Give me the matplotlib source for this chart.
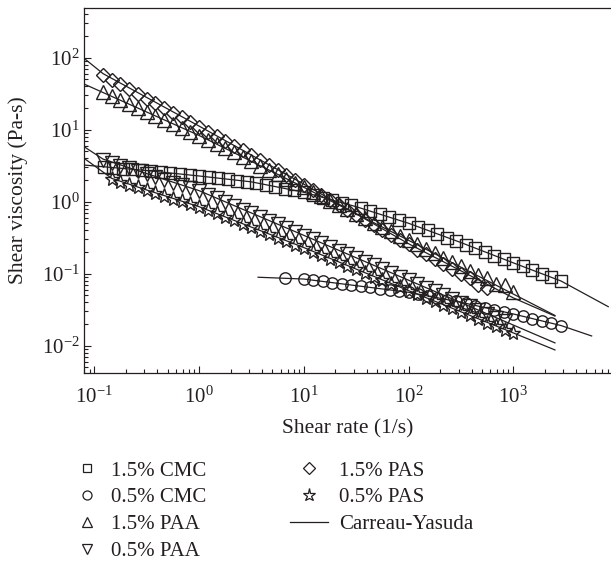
import matplotlib
matplotlib.use("Agg")
import matplotlib.pyplot as plt
from matplotlib.lines import Line2D
from matplotlib.ticker import LogLocator, NullFormatter

# shear-rate grids of the rheometer sweeps (points per decade: 12 for PAA/PAS, 11 for CMC)
rate_12 = [0.1212, 0.1468, 0.1778, 0.2154, 0.2610, 0.3162, 0.3831, 0.4642, 0.5623, 0.6813,
           0.8254, 1.0, 1.212, 1.468, 1.778, 2.154, 2.610, 3.162, 3.831, 4.642,
           5.623, 6.813, 8.254, 10.0, 12.12, 14.68, 17.78, 21.54, 26.10, 31.62,
           38.31, 46.42, 56.23, 68.13, 82.54, 100.0, 121.2, 146.8, 177.8, 215.4,
           261.0, 316.2, 383.1, 464.2, 562.3, 681.3, 825.4, 1000.0]
rate_11 = [0.1233, 0.1520, 0.1874, 0.2310, 0.2848, 0.3511, 0.4329, 0.5337, 0.6579, 0.8111,
           1.0, 1.233, 1.520, 1.874, 2.310, 2.848, 3.511, 4.329, 5.337, 6.579,
           8.111, 10.0, 12.33, 15.20, 18.74, 23.10, 28.48, 35.11, 43.29, 53.37,
           65.79, 81.11, 100.0, 123.3, 152.0, 187.4, 231.0, 284.8, 351.1, 432.9,
           533.7, 657.9, 811.1, 1000.0, 1233.0, 1520.0, 1874.0, 2310.0, 2848.0]

# measured viscosities (Pa-s)
eta_cmc15 = [3.05, 2.97, 2.88, 2.81, 2.73, 2.65, 2.57, 2.49, 2.41, 2.34,
             2.26, 2.19, 2.11, 2.04, 1.96, 1.90, 1.81, 1.71, 1.61, 1.52,
             1.43, 1.35, 1.24, 1.14, 1.05, 0.964, 0.887, 0.811, 0.736, 0.669,
             0.608, 0.552, 0.501, 0.447, 0.398, 0.355, 0.316, 0.282, 0.251, 0.224,
             0.200, 0.178, 0.158, 0.141, 0.126, 0.112, 0.100, 0.0891, 0.0794]
rate_cmc05 = [6.58, 10.0, 12.3, 15.2, 18.7, 23.1, 28.5, 35.1, 43.3, 53.4,
              65.8, 81.1, 100, 123, 152, 187, 231, 285, 351, 433,
              534, 658, 811, 1000, 1233, 1520, 1874, 2310, 2848]
eta_cmc05 = [0.0863, 0.0841, 0.0810, 0.0780, 0.0752, 0.0723, 0.0697, 0.0670, 0.0644, 0.0619,
             0.0595, 0.0572, 0.0550, 0.0519, 0.0489, 0.0461, 0.0435, 0.0410, 0.0385, 0.0360,
             0.0337, 0.0315, 0.0294, 0.0275, 0.0255, 0.0237, 0.0220, 0.0204, 0.0189]
eta_paa15 = [33.6, 29.5, 26.0, 22.9, 20.1, 17.7, 15.6, 13.7, 12.1, 10.6,
             9.33, 8.22, 7.23, 6.37, 5.53, 4.81, 4.18, 3.64, 3.16, 2.75,
             2.39, 2.07, 1.81, 1.57, 1.36, 1.19, 1.03, 0.897, 0.780, 0.678,
             0.589, 0.512, 0.445, 0.387, 0.336, 0.292, 0.254, 0.221, 0.192, 0.167,
             0.145, 0.126, 0.110, 0.0955, 0.086, 0.071, 0.069, 0.055]
eta_paa05 = [3.78, 3.46, 3.16, 2.89, 2.64, 2.41, 2.20, 2.01, 1.84, 1.68,
             1.53, 1.40, 1.25, 1.11, 0.982, 0.871, 0.774, 0.687, 0.610, 0.541,
             0.481, 0.427, 0.379, 0.336, 0.299, 0.265, 0.235, 0.209, 0.185, 0.165,
             0.146, 0.130, 0.115, 0.102, 0.0908, 0.0806, 0.0716, 0.0636, 0.0565, 0.0501,
             0.0445, 0.0395, 0.0351, 0.0311, 0.0277, 0.0245, 0.0218]
eta_pas15 = [57.3, 49.3, 42.4, 36.5, 31.3, 27.0, 23.2, 19.95, 17.2, 14.8,
             12.7, 10.9, 9.40, 8.07, 6.95, 5.98, 5.14, 4.43, 3.78, 3.22,
             2.75, 2.34, 2.00, 1.71, 1.46, 1.24, 1.06, 0.904, 0.771, 0.658,
             0.561, 0.479, 0.408, 0.348, 0.297, 0.254, 0.216, 0.185, 0.157, 0.134,
             0.115, 0.0977, 0.086, 0.070, 0.063]
eta_pas05 = [2.04, 1.87, 1.71, 1.57, 1.44, 1.31, 1.20, 1.10, 1.01, 0.923,
             0.845, 0.774, 0.692, 0.618, 0.552, 0.493, 0.441, 0.394, 0.352, 0.314,
             0.281, 0.251, 0.224, 0.200, 0.179, 0.160, 0.143, 0.127, 0.114, 0.102,
             0.0908, 0.0811, 0.0724, 0.0647, 0.0578, 0.0516, 0.0461, 0.0412, 0.0368, 0.0329,
             0.0294, 0.0262, 0.0234, 0.0209, 0.0187, 0.0167, 0.0149]

# Carreau-Yasuda fits
fit_cmc15_rate = [0.0797, 0.316, 1, 3.16, 10, 31.6, 100, 316, 1000, 2850, 8070]
fit_cmc15_eta = [3.22, 2.70, 2.27, 1.88, 1.35, 0.85, 0.50, 0.27, 0.141, 0.079, 0.0347]
fit_cmc05_rate = [3.66, 10, 31.6, 100, 316, 1000, 2850, 5600]
fit_cmc05_eta = [0.089, 0.084, 0.068, 0.055, 0.040, 0.0275, 0.019, 0.0136]
fit_paa15_rate = [0.0797, 1, 10, 100, 1000, 2500]
fit_paa15_eta = [43, 8.3, 1.58, 0.29, 0.052, 0.0262]
fit_paa05_rate = [0.0797, 0.121, 0.316, 1, 10, 100, 2500]
fit_paa05_eta = [5.8, 3.9, 2.45, 1.42, 0.34, 0.081, 0.0109]
fit_pas15_rate = [0.0797, 0.121, 1, 10, 100, 1000, 2500]
fit_pas15_eta = [98, 60, 11.2, 1.75, 0.26, 0.046, 0.0257]
fit_pas05_rate = [0.0797, 0.147, 0.316, 1, 10, 100, 1000, 2500]
fit_pas05_eta = [4.0, 2.1, 1.45, 0.85, 0.23, 0.058, 0.0150, 0.0087]

plt.rcParams["font.family"] = "Liberation Serif"
plt.rcParams["mathtext.fontset"] = "custom"
plt.rcParams["mathtext.rm"] = "Liberation Serif"
plt.rcParams["mathtext.it"] = "Liberation Serif:italic"
plt.rcParams["mathtext.bf"] = "Liberation Serif:bold"

ink = "#231f20"

fig = plt.figure(figsize=(6.11, 5.62), dpi=100)
ax = fig.add_axes([84 / 611, 189 / 562, 527 / 611, 365 / 562])
ax.set_xscale("log")
ax.set_yscale("log")

series = [
    (rate_11, eta_cmc15, "s", 8.0),
    (rate_cmc05, eta_cmc05, "o", 8.2),
    (rate_12, eta_paa15, "^", 9.5),
    (rate_12, eta_paa05, "v", 9.5),
    (rate_12, eta_pas15, "D", 7.2),
    (rate_12[1:], eta_pas05, "*", 11.0),
]
for rate, eta, mk, ms in series:
    ax.plot(rate[:len(eta)], eta, ls="none", marker=mk, ms=ms, mfc="none",
            mec=ink, mew=1.0)

fits = [(fit_cmc15_rate, fit_cmc15_eta), (fit_cmc05_rate, fit_cmc05_eta),
        (fit_paa15_rate, fit_paa15_eta), (fit_paa05_rate, fit_paa05_eta),
        (fit_pas15_rate, fit_pas15_eta), (fit_pas05_rate, fit_pas05_eta)]
for r, e in fits:
    ax.plot(r, e, color=ink, lw=0.9)

ax.set_xlim(0.0797, 8570)
ax.set_ylim(0.00416, 489)

for axis in (ax.xaxis, ax.yaxis):
    axis.set_major_locator(LogLocator(base=10, numticks=20))
    axis.set_minor_locator(LogLocator(base=10, subs=range(2, 10), numticks=20))
    axis.set_minor_formatter(NullFormatter())

ax.tick_params(which="both", direction="in", top=False, right=False,
               colors=ink, width=0.8, labelsize=15)
ax.tick_params(which="major", length=5)
ax.tick_params(which="minor", length=2.6)
ax.tick_params(axis="x", pad=10)
ax.tick_params(axis="y", pad=3)

ax.spines["right"].set_visible(False)
for side in ("left", "bottom", "top"):
    ax.spines[side].set_linewidth(0.9)
    ax.spines[side].set_color(ink)

ax.set_xlabel("Shear rate (1/s)", fontsize=15.5, color=ink)
ax.set_ylabel("Shear viscosity (Pa-s)", fontsize=15.5, color=ink)
ax.xaxis.set_label_coords(0.5, -0.128)
ax.yaxis.set_label_coords(-0.106, 0.5)

def key(mk, ms):
    return Line2D([], [], ls="none", marker=mk, ms=ms, mfc="none", mec=ink, mew=0.9)

left_keys = [key("s", 6.0), key("o", 6.5), key("^", 7.2), key("v", 7.2)]
left_names = ["1.5% CMC", "0.5% CMC", "1.5% PAA", "0.5% PAA"]
right_keys = [key("D", 5.8), key("*", 9.5), Line2D([], [], color=ink, lw=0.9)]
right_names = ["1.5% PAS", "0.5% PAS", "Carreau-Yasuda"]

opts = dict(loc="upper left", frameon=False, fontsize=15, borderpad=0,
            borderaxespad=0, handlelength=1.8, labelspacing=0.35,
            labelcolor=ink)
fig.legend(left_keys, left_names, bbox_to_anchor=(68 / 611, 1 - 461 / 562),
           handletextpad=0.25, **opts)
fig.legend(right_keys, right_names, bbox_to_anchor=(290 / 611, 1 - 461 / 562),
           handletextpad=0.55, **opts)

fig.savefig("out.png", dpi=100)
